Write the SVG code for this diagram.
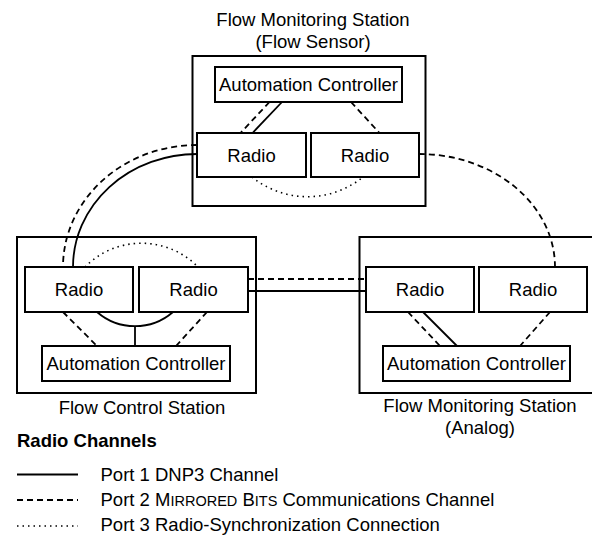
<svg xmlns="http://www.w3.org/2000/svg" width="592" height="540" viewBox="0 0 592 540">
  <style>
    text { font-family: "Liberation Sans", Arial, sans-serif; font-size: 18.5px; fill: #000; }
    .c { text-anchor: middle; }
    .b { font-weight: bold; }
    .sc { font-size: 14.5px; }
    .box { fill: #fff; stroke: #000; stroke-width: 2; }
    .solid { fill: none; stroke: #000; stroke-width: 1.8; }
    .dash { fill: none; stroke: #000; stroke-width: 1.8; stroke-dasharray: 6 4; }
    .dot { fill: none; stroke: #000; stroke-width: 1.6; stroke-dasharray: 1.5 4; }
  </style>
  <rect width="592" height="540" fill="#fff"/>

  <!-- station outlines -->
  <g id="station-flow-sensor">
    <rect class="box" x="192.5" y="56" width="233" height="150"/>
    <text class="c" x="313" y="26">Flow Monitoring Station</text>
    <text class="c" x="313" y="48">(Flow Sensor)</text>
  </g>
  <g id="station-flow-control">
    <rect class="box" x="17" y="237" width="239" height="156"/>
    <text class="c" x="142" y="413.5">Flow Control Station</text>
  </g>
  <g id="station-analog">
    <rect class="box" x="359.5" y="237" width="240" height="156"/>
    <text class="c" x="480" y="411.5">Flow Monitoring Station</text>
    <text class="c" x="480" y="434">(Analog)</text>
  </g>

  <!-- radio channels -->
  <g id="connectors">
    <!-- flow sensor station internals -->
    <path class="dash" d="M269.5,102 L240.5,133"/>
    <path class="solid" d="M282,102 L252.5,133"/>
    <path class="dash" d="M351,102 L379.5,133"/>
    <path class="dot" d="M252,177 A88,88 0 0 0 363,177"/>
    <!-- long-haul links between stations -->
    <path class="dash" d="M197,145 A134,122 0 0 0 63,267"/>
    <path class="solid" d="M197,154 A124,113 0 0 0 73,267"/>
    <path class="dash" d="M419,154 A136,113 0 0 1 555,267"/>
    <path class="dash" d="M248,279 L366,279"/>
    <path class="solid" d="M248,291 L366,291"/>
    <!-- flow control station internals -->
    <path class="dot" d="M85,267 A79,79 0 0 1 198,267"/>
    <path class="dash" d="M63,312 L97,346"/>
    <path class="dash" d="M207,312 L176,346"/>
    <path class="solid" d="M97,312 A58,58 0 0 0 173,312"/>
    <path class="solid" d="M135,326.2 L135,346"/>
    <!-- analog station internals -->
    <path class="dash" d="M408,312 L440,346"/>
    <path class="solid" d="M423,312 L457,346"/>
    <path class="dash" d="M550,312 L520,346"/>
  </g>

  <!-- devices -->
  <g id="fs-controller">
    <rect class="box" x="215" y="67" width="187" height="35"/>
    <text class="c" x="308.5" y="91">Automation Controller</text>
  </g>
  <g id="fs-radio-1">
    <rect class="box" x="197" y="133" width="109" height="44"/>
    <text class="c" x="251.5" y="161.5">Radio</text>
  </g>
  <g id="fs-radio-2">
    <rect class="box" x="311" y="133" width="108" height="44"/>
    <text class="c" x="365" y="161.5">Radio</text>
  </g>

  <g id="fc-radio-1">
    <rect class="box" x="25" y="267" width="108" height="45"/>
    <text class="c" x="79" y="296">Radio</text>
  </g>
  <g id="fc-radio-2">
    <rect class="box" x="139" y="267" width="109" height="45"/>
    <text class="c" x="193.5" y="296">Radio</text>
  </g>
  <g id="fc-controller">
    <rect class="box" x="42" y="346" width="188" height="35"/>
    <text class="c" x="136" y="370">Automation Controller</text>
  </g>

  <g id="an-radio-1">
    <rect class="box" x="366" y="267" width="108" height="45"/>
    <text class="c" x="420" y="296">Radio</text>
  </g>
  <g id="an-radio-2">
    <rect class="box" x="479" y="267" width="108" height="45"/>
    <text class="c" x="533" y="296">Radio</text>
  </g>
  <g id="an-controller">
    <rect class="box" x="383" y="346" width="187" height="35"/>
    <text class="c" x="476.5" y="370">Automation Controller</text>
  </g>

  <!-- legend -->
  <g id="legend">
    <text class="b" x="17" y="446.5">Radio Channels</text>
    <path class="solid" d="M17,474.5 L78,474.5"/>
    <text x="100.5" y="481">Port 1 DNP3 Channel</text>
    <path class="dash" d="M17,500 L78,500"/>
    <text x="100.5" y="505.5">Port 2 M<tspan class="sc">IRRORED</tspan> B<tspan class="sc">ITS</tspan> Communications Channel</text>
    <path class="dot" d="M17,526 L78,526"/>
    <text x="100.5" y="530.5">Port 3 Radio-Synchronization Connection</text>
  </g>
</svg>
